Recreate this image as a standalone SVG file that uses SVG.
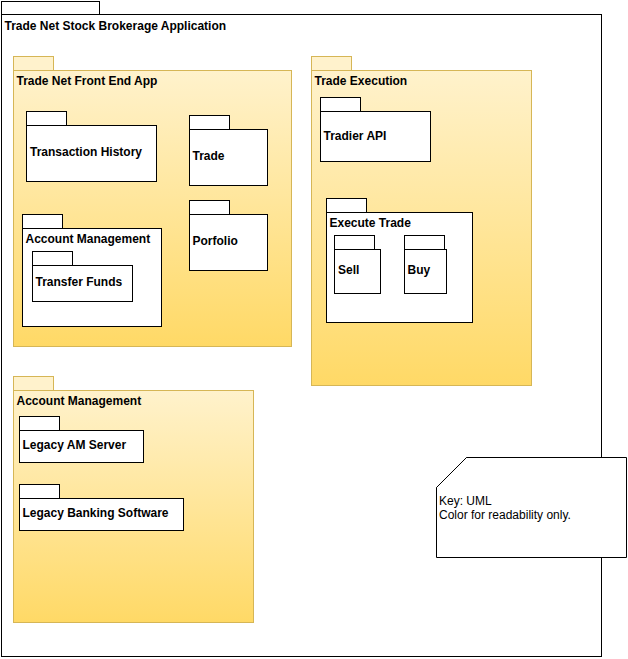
<svg xmlns="http://www.w3.org/2000/svg" width="628" height="659" viewBox="0 0 628 659">
  <defs>
    <linearGradient id="yellowFill" x1="0" y1="0" x2="0" y2="1">
      <stop offset="0" stop-color="#fff2cc"/>
      <stop offset="1" stop-color="#ffd966"/>
    </linearGradient>
    <style>
      .plain { fill: #ffffff; stroke: #000000; stroke-width: 1; }
      .yellow { fill: url(#yellowFill); stroke: #d6b656; stroke-width: 1; }
      .yellowTab { fill: #fff2cc; stroke: #d6b656; stroke-width: 1; }
      .label { font-family: "Liberation Sans", Arial, Helvetica, sans-serif; font-size: 12px; font-weight: bold; fill: #000000; }
      .note { font-family: "Liberation Sans", Arial, Helvetica, sans-serif; font-size: 12px; fill: #000000; }
    </style>
  </defs>

  <!-- Outer system package -->
  <g id="trade-net-app">
    <rect class="plain" x="1.5" y="1.5" width="98" height="13"/>
    <rect class="plain" x="1.5" y="14.5" width="600" height="642"/>
    <text class="label" x="4.5" y="29.5">Trade Net Stock Brokerage Application</text>
  </g>

  <!-- Front end package -->
  <g id="front-end-app">
    <rect class="yellowTab" x="13.5" y="56.5" width="40" height="14"/>
    <rect class="yellow" x="13.5" y="70.5" width="278" height="276"/>
    <text class="label" x="16.5" y="84.5">Trade Net Front End App</text>
  </g>

  <g id="transaction-history">
    <rect class="plain" x="26.5" y="111.5" width="40" height="14"/>
    <rect class="plain" x="26.5" y="125.5" width="130" height="56"/>
    <text class="label" x="30" y="156">Transaction History</text>
  </g>

  <g id="trade">
    <rect class="plain" x="189.5" y="115.5" width="40" height="14"/>
    <rect class="plain" x="189.5" y="129.5" width="78" height="56"/>
    <text class="label" x="192.5" y="160">Trade</text>
  </g>

  <g id="porfolio">
    <rect class="plain" x="189.5" y="200.5" width="40" height="14"/>
    <rect class="plain" x="189.5" y="214.5" width="78" height="56"/>
    <text class="label" x="192.5" y="245">Porfolio</text>
  </g>

  <g id="account-management-ui">
    <rect class="plain" x="22.5" y="214.5" width="40" height="14"/>
    <rect class="plain" x="22.5" y="228.5" width="139" height="98"/>
    <text class="label" x="25.5" y="242.5">Account Management</text>
  </g>

  <g id="transfer-funds">
    <rect class="plain" x="32.5" y="251.5" width="40" height="14"/>
    <rect class="plain" x="32.5" y="265.5" width="100" height="36"/>
    <text class="label" x="35.5" y="286">Transfer Funds</text>
  </g>

  <!-- Trade execution package -->
  <g id="trade-execution">
    <rect class="yellowTab" x="311.5" y="56.5" width="40" height="14"/>
    <rect class="yellow" x="311.5" y="70.5" width="220" height="315"/>
    <text class="label" x="314.5" y="84.5">Trade Execution</text>
  </g>

  <g id="tradier-api">
    <rect class="plain" x="320.5" y="97.5" width="40" height="14"/>
    <rect class="plain" x="320.5" y="111.5" width="110" height="50"/>
    <text class="label" x="323.5" y="139.5">Tradier API</text>
  </g>

  <g id="execute-trade">
    <rect class="plain" x="326.5" y="198.5" width="40" height="14"/>
    <rect class="plain" x="326.5" y="212.5" width="146" height="110"/>
    <text class="label" x="329.5" y="226.5">Execute Trade</text>
  </g>

  <g id="sell">
    <rect class="plain" x="334.5" y="235.5" width="40" height="14"/>
    <rect class="plain" x="334.5" y="249.5" width="46" height="44"/>
    <text class="label" x="338" y="274">Sell</text>
  </g>

  <g id="buy">
    <rect class="plain" x="404.5" y="235.5" width="40" height="14"/>
    <rect class="plain" x="404.5" y="249.5" width="42" height="44"/>
    <text class="label" x="407.5" y="274">Buy</text>
  </g>

  <!-- Back-office account management package -->
  <g id="account-management">
    <rect class="yellowTab" x="13.5" y="376.5" width="40" height="14"/>
    <rect class="yellow" x="13.5" y="390.5" width="240" height="232"/>
    <text class="label" x="16.5" y="404.5">Account Management</text>
  </g>

  <g id="legacy-am-server">
    <rect class="plain" x="19.5" y="416.5" width="40" height="14"/>
    <rect class="plain" x="19.5" y="430.5" width="124" height="32"/>
    <text class="label" x="22.5" y="449">Legacy AM Server</text>
  </g>

  <g id="legacy-banking-software">
    <rect class="plain" x="19.5" y="484.5" width="40" height="14"/>
    <rect class="plain" x="19.5" y="498.5" width="164" height="32"/>
    <text class="label" x="22.5" y="517">Legacy Banking Software</text>
  </g>

  <!-- Legend note -->
  <g id="key-note">
    <path class="plain" d="M466.5,457.5 H626.5 V557.5 H436.5 V487.5 Z"/>
    <path fill="none" stroke="#000000" stroke-width="1" d="M436.5,487.5 L466.5,457.5"/>
    <text class="note" x="439" y="504.5">Key: UML</text>
    <text class="note" x="439" y="518.5">Color for readability only.</text>
  </g>

  <g id="connectors"/>
</svg>
